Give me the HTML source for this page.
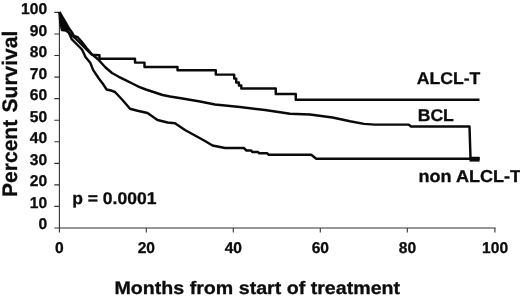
<!DOCTYPE html>
<html><head><meta charset="utf-8"><title>Survival</title>
<style>
html,body{margin:0;padding:0;background:#fff;}
body{width:520px;height:296px;overflow:hidden;}
svg{display:block;}
text{text-rendering:geometricPrecision;font-family:"Liberation Sans",Arial,sans-serif;font-weight:bold;fill:#0c0c0c;stroke:#0c0c0c;stroke-width:0.3px;}
.t{font-size:15.6px;}
.l{font-size:17px;}
.ax{stroke:#333;stroke-width:1.1;fill:none;}
.c{stroke:#0a0a0a;stroke-width:2.45;fill:none;stroke-linejoin:round;stroke-linecap:butt;}
</style></head><body>
<svg width="520" height="296" viewBox="0 0 520 296">
<rect width="520" height="296" fill="#fff"/>
<!-- axes -->
<path class="ax" d="M59.4 12V232.5 M54.3 228H495.6"/>
<path class="ax" d="M54.3 12.4H59.4 M54.3 34H59.4 M54.3 55.5H59.4 M54.3 77.1H59.4 M54.3 98.6H59.4 M54.3 120.2H59.4 M54.3 141.8H59.4 M54.3 163.4H59.4 M54.3 184.9H59.4 M54.3 206.4H59.4"/>
<path class="ax" d="M146.3 228V232.5 M233.3 228V232.5 M320.3 228V232.5 M407.3 228V232.5 M494.9 228V232.5"/>
<!-- y tick labels -->
<g class="t" text-anchor="end">
<text transform="translate(47.1,13.9)">100</text>
<text transform="translate(47.1,35.5)">90</text>
<text transform="translate(47.1,57)">80</text>
<text transform="translate(47.1,78.6)">70</text>
<text transform="translate(47.1,100.1)">60</text>
<text transform="translate(47.1,121.7)">50</text>
<text transform="translate(47.1,143.3)">40</text>
<text transform="translate(47.1,164.9)">30</text>
<text transform="translate(47.1,186.4)">20</text>
<text transform="translate(47.1,207.9)">10</text>
<text transform="translate(47.1,229.4)">0</text>
</g>
<g class="t" text-anchor="middle">
<text transform="translate(59.3,253)">0</text>
<text transform="translate(146.3,253)">20</text>
<text transform="translate(233.3,253)">40</text>
<text transform="translate(320.3,253)">60</text>
<text transform="translate(407.5,253)">80</text>
<text transform="translate(495.1,253)">100</text>
</g>
<text class="l" transform="translate(17.3,196.9) rotate(-90)" style="font-size:21px;word-spacing:1.6px">Percent Survival</text>
<text class="l" transform="translate(257.3,293.6) scale(1.09,1)" text-anchor="middle" style="font-size:18px">Months from start of treatment</text>
<text class="l" transform="translate(72.2,204.3) scale(1.03,1)">p = 0.0001</text>
<text class="l" transform="translate(416.8,84.3) scale(1.035,1)">ALCL-T</text>
<text class="l" transform="translate(417.7,121.4) scale(1.035,1)">BCL</text>
<text class="l" transform="translate(418.5,182.2) scale(1.05,1)" style="font-size:17.2px">non ALCL-T</text>
<!-- curves -->
<path d="M59.5 12 L66 23 L71 31 L66 30.5 L62 30 L60.3 23 Z" fill="#0a0a0a"/>
<path class="c" d="M59.5 12 L66 23 L68.75 28 L72.5 33.25 L74 36 L77.75 37.2 L81.5 41.5 L86.75 48.25 L92 54.6 L99.5 55.3 V58.75 H135 V62.6 H144.5 V66.9 H177.5 V70.3 H215.8 V74.6 H234.2 V78.6 H236.2 V82.4 H238.9 V85.4 H241.3 V88.5 H275.75 V93.9 H295.75 V99.75 H479.5"/>
<path class="c" d="M59.5 12 L63.2 23 L67 31 L70.5 34 L75 38 L79 42 L84.5 47.5 L90 53 L93.5 55.5 L98.5 59.7 L105.3 67.2 L112 73 L118.8 76.8 L125.5 80.2 L132.3 83.5 L139 86.8 L145.8 89.5 L155 92.5 L162.5 95 L170 96.5 L182.5 98.5 L200 101.5 L215 104.5 L240 107 L265 110 L290 113.75 L310 114.5 L332.5 117.5 L350 121.25 L364 123.9 L375 124.6 H408.75 L411 126.5 H469.5 L470.5 158 H479.5"/>
<path class="c" d="M59.5 12 L60.3 23 L62 30 L66 30.5 L68.75 32.5 L71.75 39.25 L76.25 43.75 L80.75 48.25 L82.25 50 L85.5 57 L90.4 63.1 L93.1 69.9 L98.5 78 L102.6 83.4 L106.6 89.5 L112 90.8 L115 92 L122.5 100 L130 108.75 L137.5 110.75 L147.5 113 L157.5 120 L167.5 122.5 L175 123.25 L185 130 L195 135.5 L205 141 L212.5 145.5 L225 148 H243.8 L246.5 150.5 H251.2 L252.2 151.9 H258 L259 153.2 H267 L268.5 154.7 H311.25 L316.25 158.8 H479.5"/>
<rect x="469.5" y="157.2" width="10.1" height="4.4" fill="#0a0a0a"/>
</svg>
</body></html>
